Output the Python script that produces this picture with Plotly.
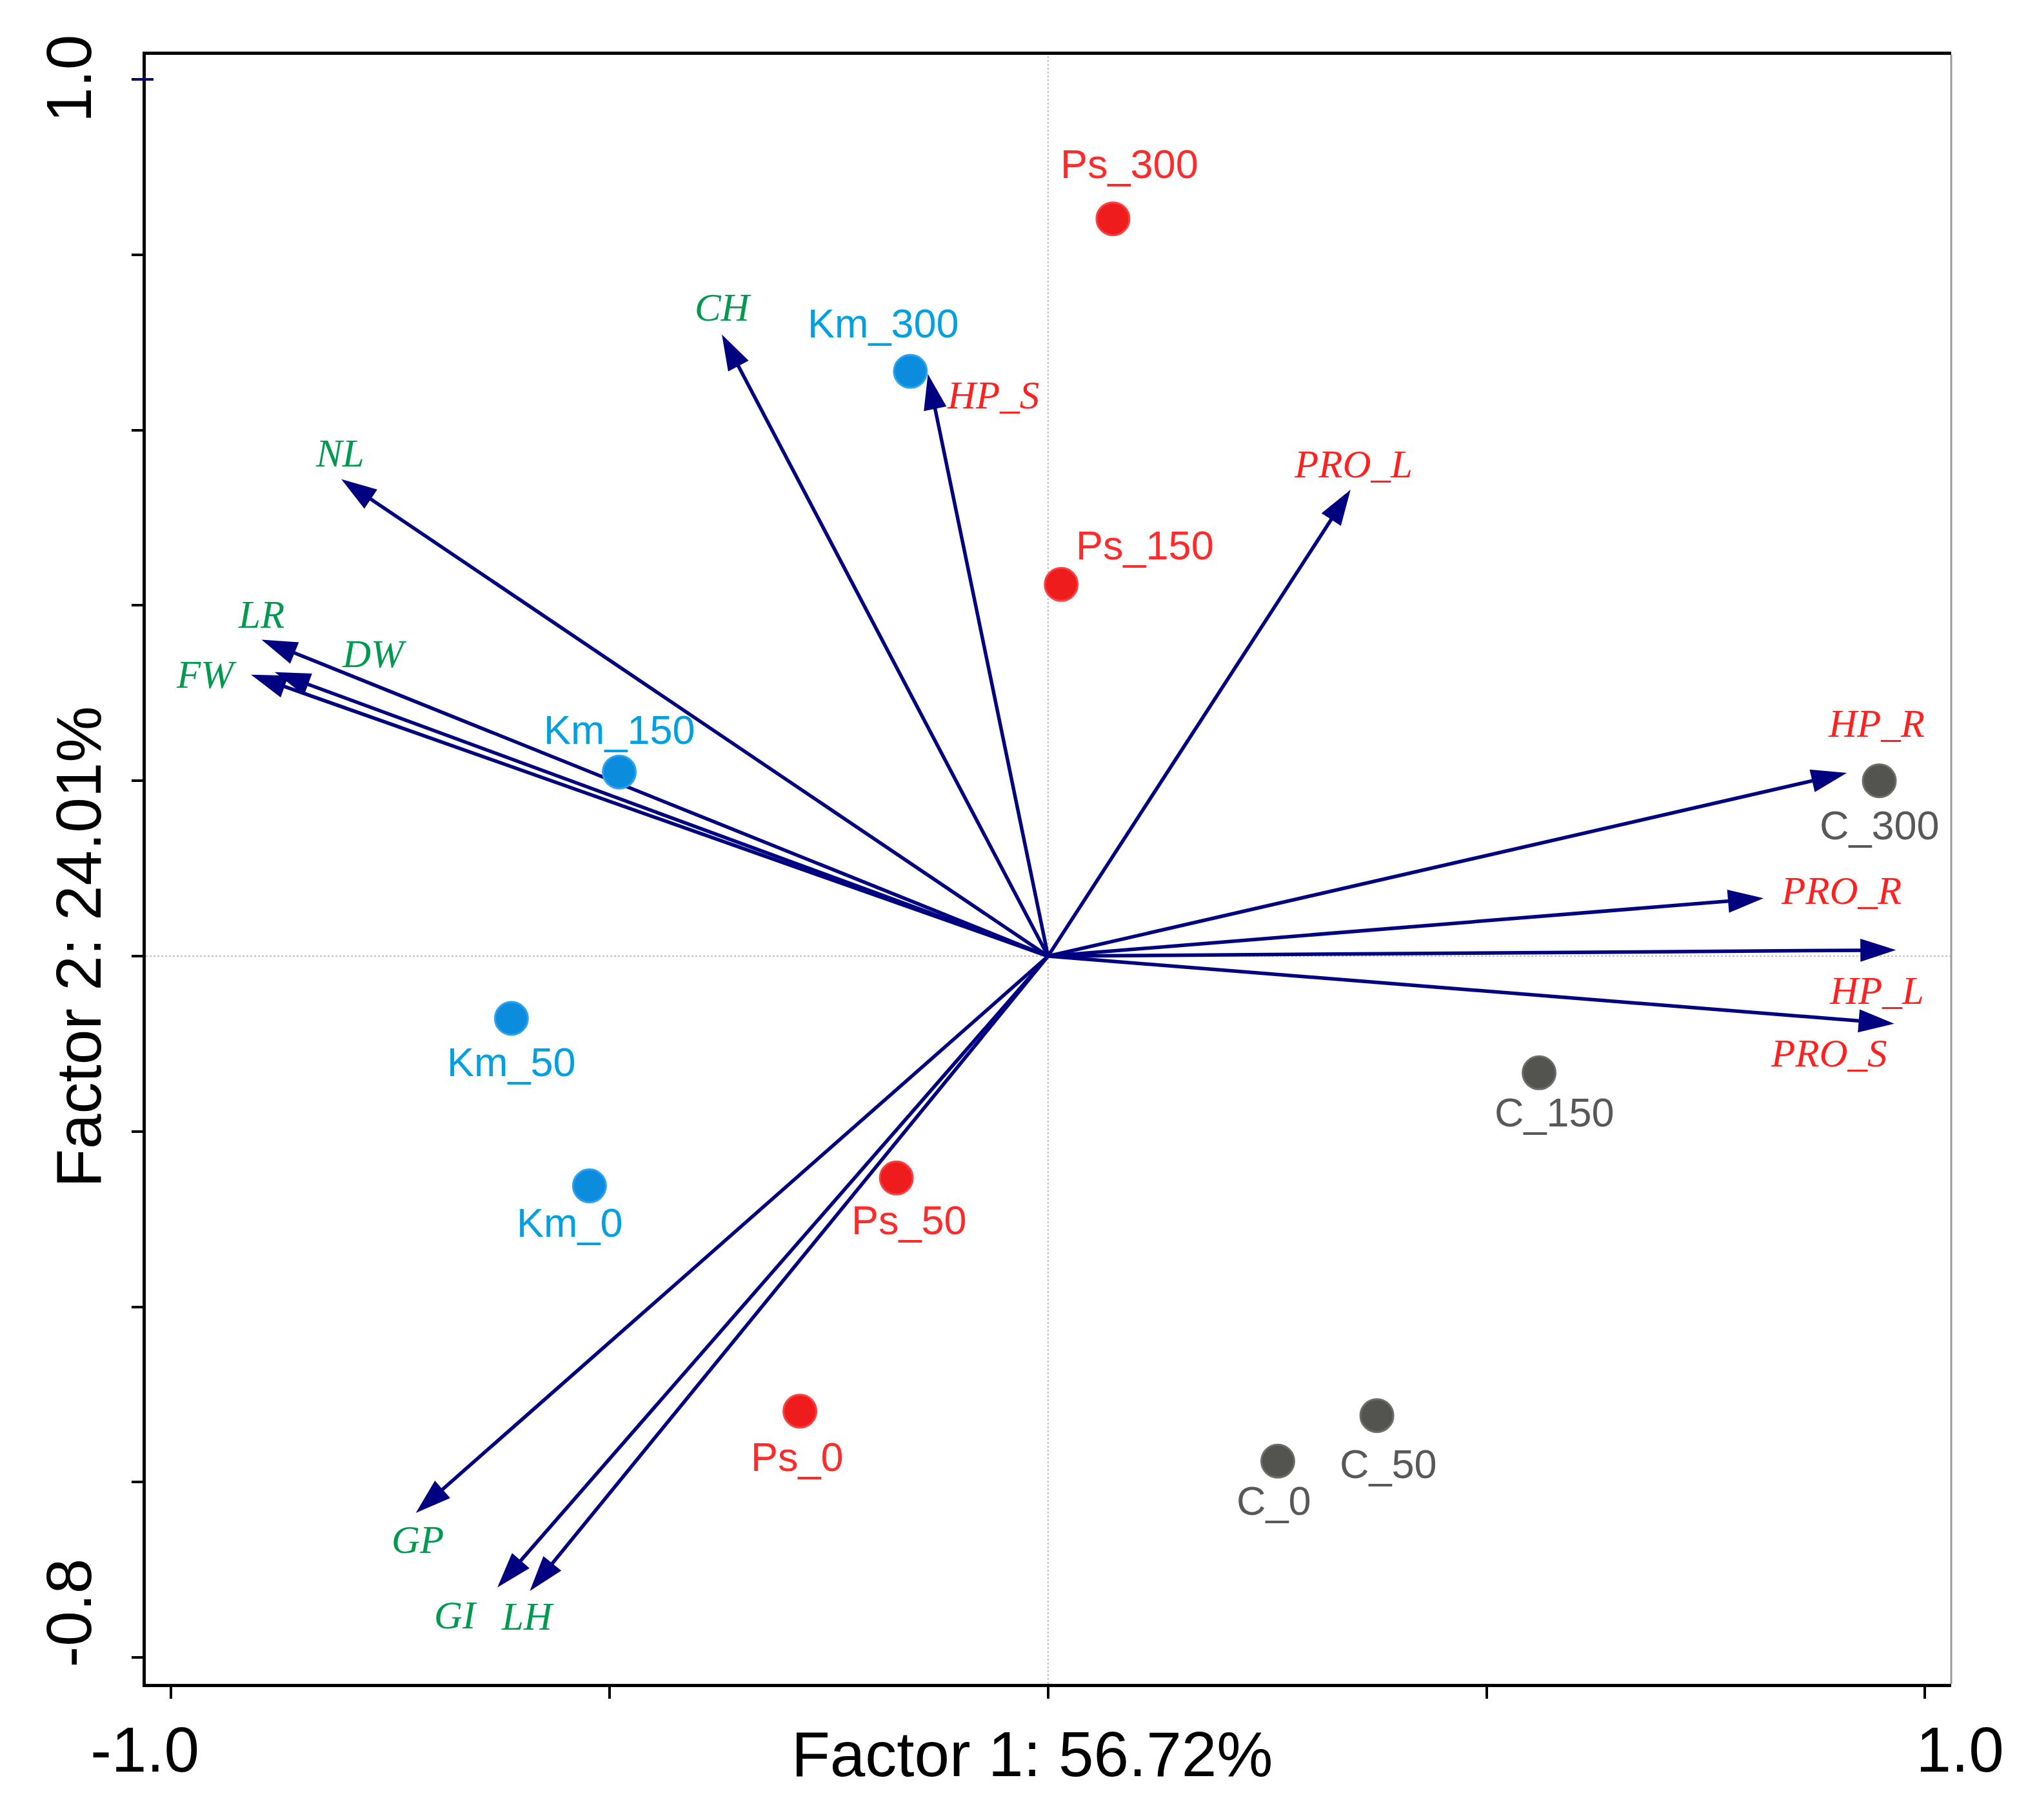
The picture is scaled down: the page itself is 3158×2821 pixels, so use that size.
import plotly.graph_objects as go

# sample scores (factor 1, factor 2)
sample_names = ["Ps_300", "Km_300", "Ps_150", "Km_150", "Km_50", "Km_0",
                "Ps_50", "Ps_0", "C_0", "C_50", "C_150", "C_300"]
sample_f1 = [0.074, -0.157, 0.015, -0.489, -0.612, -0.523,
             -0.173, -0.283, 0.262, 0.375, 0.560, 0.948]
sample_f2 = [0.841, 0.667, 0.424, 0.210, -0.071, -0.262,
             -0.253, -0.519, -0.576, -0.524, -0.133, 0.200]

# variable loadings
var_names = ["CH", "HP_S", "NL", "LR", "DW", "FW", "PRO_L",
             "HP_R", "PRO_R", "HP_L", "PRO_S", "GP", "GI", "LH"]
var_f1 = [-0.372, -0.137, -0.806, -0.897, -0.882, -0.909, 0.345,
          0.911, 0.816, 0.967, 0.965, -0.721, -0.628, -0.591]
var_f2 = [0.709, 0.664, 0.544, 0.361, 0.324, 0.321, 0.532,
          0.209, 0.066, 0.007, -0.077, -0.635, -0.720, -0.724]
growth_vars = ["CH", "NL", "LR", "DW", "FW", "GP", "GI", "LH"]

NBSP = "\u00a0"
ARROW = "#000080"
SANS = "Liberation Sans"
SERIF = "Liberation Serif"

group_style = {
    "Ps": dict(fill="#ee1c1c", edge="#ff4040", label="#ff2b2b"),
    "Km": dict(fill="#0b8cdc", edge="#2ba2f2", label="#00a0e2"),
    "C": dict(fill="#53534f", edge="#6d6d67", label="#585858"),
}

# label offsets in pixels (dx, dy up)
sample_shift = {
    "Ps_300": (26, 85), "Km_300": (-42, 75), "Ps_150": (130, 61),
    "Km_150": (0, 66), "Km_50": (0, -67), "Km_0": (-30, -57),
    "Ps_50": (20, -65), "Ps_0": (-4, -71), "C_0": (-6, -61),
    "C_50": (18, -75), "C_150": (24, -61), "C_300": (0, -69),
}
var_shift = {
    "CH": (2, 42), "HP_S": (101, -33), "NL": (-2, 40), "LR": (0, 39),
    "DW": (155, 28), "FW": (-69, 0), "PRO_L": (4, 40), "HP_R": (46, 77),
    "PRO_R": (120, 12), "HP_L": (-30, -63), "PRO_S": (-101, -46),
    "GP": (3, -41), "GI": (-65, -43), "LH": (-3, -40),
}

fig = go.Figure()

# loading arrows
for name, x, y in zip(var_names, var_f1, var_f2):
    fig.add_trace(go.Scatter(
        x=[0, x], y=[0, y], mode="lines+markers",
        line=dict(color=ARROW, width=5.5),
        marker=dict(symbol=["circle", "arrow"], size=[0, 58], opacity=1,
                    angleref="previous", color=ARROW, line=dict(width=0)),
        hoverinfo="skip", showlegend=False))

# sample points by group
for grp, st in group_style.items():
    idx = [i for i, n in enumerate(sample_names) if n.split("_")[0] == grp]
    fig.add_trace(go.Scatter(
        x=[sample_f1[i] for i in idx], y=[sample_f2[i] for i in idx],
        mode="markers", name=grp, showlegend=False,
        marker=dict(size=51, color=st["fill"], line=dict(color=st["edge"], width=3))))

for name, x, y in zip(sample_names, sample_f1, sample_f2):
    dx, dy = sample_shift[name]
    fig.add_annotation(x=x, y=y, text=name, showarrow=False, xshift=dx, yshift=dy,
                       xanchor="center", yanchor="middle",
                       font=dict(family=SANS, size=63,
                                 color=group_style[name.split("_")[0]]["label"]))

for name, x, y in zip(var_names, var_f1, var_f2):
    dx, dy = var_shift[name]
    col = "#009a4e" if name in growth_vars else "#ff2020"
    fig.add_annotation(x=x, y=y, text=name, showarrow=False, xshift=dx, yshift=dy,
                       xanchor="center", yanchor="middle",
                       font=dict(family=SERIF, size=61, color=col, style="italic"))

# dotted zero lines
fig.add_hline(y=0, line=dict(color="#bdbdbd", width=2, dash="dot"), layer="below")
fig.add_vline(x=0, line=dict(color="#bdbdbd", width=2, dash="dot"), layer="below")
# grey right border
fig.add_shape(type="line", xref="paper", yref="paper", x0=1, x1=1, y0=0, y1=1,
              line=dict(color="#9a9a9a", width=3))
# navy tick at the top of the y axis
fig.add_shape(type="line", xref="paper", yref="y", x0=-18 / 2799, x1=12 / 2799,
              y0=1.0, y1=1.0, line=dict(color=ARROW, width=4))

# axis titles
fig.add_annotation(xref="paper", yref="paper", x=0.4909, y=-0.0432,
                   xanchor="center", yanchor="middle",
                   text="Factor 1: 56.72%", showarrow=False,
                   font=dict(family=SANS, size=98, color="black"))
fig.add_annotation(xref="paper", yref="paper", x=-0.0372, y=0.4523,
                   xanchor="center", yanchor="middle",
                   text="Factor 2: 24.01%", showarrow=False, textangle=-90,
                   font=dict(family=SANS, size=98, color="black"))

x_ticks = [-1.0, -0.5, 0.0, 0.5, 1.0]
x_text = ["-1.0" + NBSP * 3, "", "", "", NBSP * 4 + "1.0"]
y_ticks = [1.0, 0.8, 0.6, 0.4, 0.2, 0.0, -0.2, -0.4, -0.6, -0.8]
y_text = ["1.0" + NBSP] + [""] * 8 + [NBSP * 4 + "-0.8"]

fig.update_xaxes(range=[-1.029, 1.030], tickmode="array", tickvals=x_ticks, ticktext=x_text,
                 ticks="outside", ticklen=18, tickwidth=4, tickcolor="black",
                 showline=True, linecolor="black", linewidth=5, mirror=True,
                 showgrid=False, zeroline=False, ticklabelstandoff=-5,
                 tickfont=dict(family=SANS, size=98, color="black"))
fig.update_yaxes(range=[-0.830, 1.028], tickmode="array", tickvals=y_ticks, ticktext=y_text,
                 ticks="outside", ticklen=17, tickwidth=4, tickcolor="black", tickangle=-90,
                 showline=True, linecolor="black", linewidth=5,
                 showgrid=False, zeroline=False, ticklabelstandoff=24,
                 tickfont=dict(family=SANS, size=98, color="black"))

fig.update_layout(width=3158, height=2821, plot_bgcolor="white", paper_bgcolor="white",
                  margin=dict(l=218, r=141, t=77, b=219), showlegend=False)

fig.write_html("out.html")
